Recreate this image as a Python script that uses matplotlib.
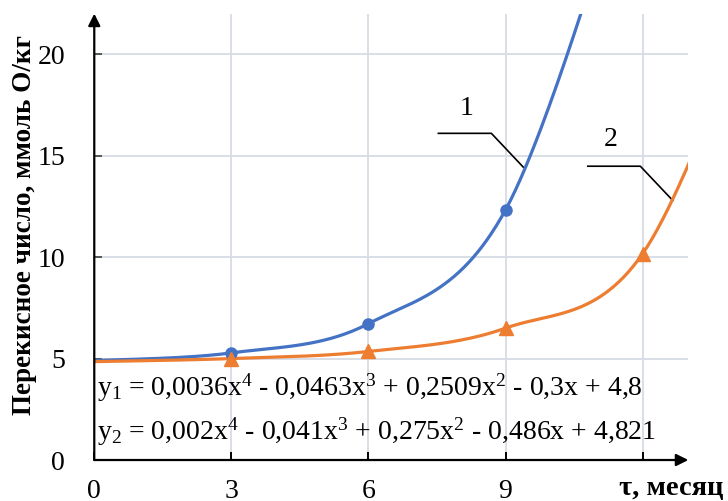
import matplotlib
matplotlib.use("Agg")
import matplotlib.pyplot as plt
import numpy as np

plt.rcParams['font.family'] = ['Liberation Serif', 'DejaVu Serif']
plt.rcParams['mathtext.fontset'] = 'custom'
plt.rcParams['mathtext.rm'] = 'Liberation Serif'

# storage time, months
months_1 = [0, 3, 6, 9, 12]
months_2 = [0, 3, 6, 9, 12, 15]
# peroxide value, mmol O/kg
peroxide_1 = [4.9, 5.28, 6.72, 12.33, 31.5]
peroxide_2 = [4.85, 5.0, 5.35, 6.5, 10.17, 26.0]

x_ticks = [0, 3, 6, 9, 12]
x_ticklabels = ['0', '3', '6', '9', '']
y_ticks = [0, 5, 10, 15, 20]

eq_1 = (r'$\mathregular{y_1}$ = 0,0036x$\mathregular{^4}$ - 0,0463x$\mathregular{^3}$'
        r' + 0,2509x$\mathregular{^2}$ - 0,3x + 4,8')
eq_2 = (r'$\mathregular{y_2}$ = 0,002x$\mathregular{^4}$ - 0,041x$\mathregular{^3}$'
        r' + 0,275x$\mathregular{^2}$ - 0,486x + 4,821')

blue = '#4472C4'
orange = '#ED7D31'
grid_c = '#D9DEE6'


def smooth(xs, ys, n=60):
    # Catmull-Rom curve through the points (like the smoothed line in Excel)
    p = np.column_stack([xs, ys]).astype(float)
    p = np.vstack([p[0], p, p[-1]])
    out = []
    for i in range(1, len(p) - 2):
        p0, p1, p2, p3 = p[i - 1], p[i], p[i + 1], p[i + 2]
        m1 = (p2 - p0) / 2
        m2 = (p3 - p1) / 2
        t = np.linspace(0, 1, n)[:, None]
        h00 = 2 * t**3 - 3 * t**2 + 1
        h10 = t**3 - 2 * t**2 + t
        h01 = -2 * t**3 + 3 * t**2
        h11 = t**3 - t**2
        out.append(h00 * p1 + h10 * m1 + h01 * p2 + h11 * m2)
    c = np.vstack(out)
    return c[:, 0], c[:, 1]


fig = plt.figure(figsize=(7.28, 5.01), dpi=100)
ax = fig.add_axes([0.1295, 0.0818, 0.816, 0.891])

ax.set_xlim(0, 13)
ax.set_ylim(0, 22)

for x in x_ticks[1:]:
    ax.axvline(x, color=grid_c, lw=1.4, zorder=0)
for y in y_ticks[1:]:
    ax.axhline(y, color=grid_c, lw=1.4, zorder=0)

cx, cy = smooth(months_1, peroxide_1)
ax.plot(cx, cy, color=blue, lw=2.3, zorder=3)
ax.plot(months_1[1:], peroxide_1[1:], 'o', color=blue, ms=8, zorder=4)

cx, cy = smooth(months_2, peroxide_2)
ax.plot(cx, cy, color=orange, lw=2.3, zorder=3)
ax.plot(months_2[1:], peroxide_2[1:], '^', color=orange, ms=10, zorder=4)

# curve numbers with leader lines
ax.plot([7.53, 8.69, 9.39], [16.10, 16.10, 14.43], color='black', lw=1.2, zorder=2)
ax.text(8.14, 17.3, '1', fontsize=20, ha='center', va='center')
ax.plot([10.80, 11.95, 12.66], [14.48, 14.48, 12.79], color='black', lw=1.2, zorder=2)
ax.text(11.31, 15.8, '2', fontsize=20, ha='center', va='center')

ax.text(0.07, 3.55, eq_1, fontsize=20, ha='left', va='center')
ax.text(0.07, 1.4, eq_2, fontsize=20, ha='left', va='center')

for s in ax.spines.values():
    s.set_visible(False)
ax.annotate('', xy=(0, 1), xytext=(0, 0), xycoords='axes fraction',
            arrowprops=dict(arrowstyle='-|>', color='black', lw=1.6, mutation_scale=18,
                            shrinkA=0, shrinkB=0))
ax.annotate('', xy=(1, 0), xytext=(0, 0), xycoords='axes fraction',
            arrowprops=dict(arrowstyle='-|>', color='black', lw=1.6, mutation_scale=18,
                            shrinkA=0, shrinkB=0))

ax.set_xticks(x_ticks)
ax.set_xticklabels(x_ticklabels)
ax.set_yticks(y_ticks)
ax.tick_params(axis='both', direction='in', length=6, width=1.4, labelsize=20)
ax.tick_params(axis='x', pad=13.5)
ax.tick_params(axis='y', pad=21, colors='#555555', labelcolor='black')

ax.set_ylabel('Перекисное число, ммоль О/кг', fontsize=19.5, fontweight='bold')
ax.yaxis.set_label_coords(-0.097, 0.527)
fig.text(619 / 728, 1 - 489 / 501, 'τ, месяц', fontsize=20.5, fontweight='bold',
         ha='left', va='center')

fig.savefig('out.png', dpi=100)
